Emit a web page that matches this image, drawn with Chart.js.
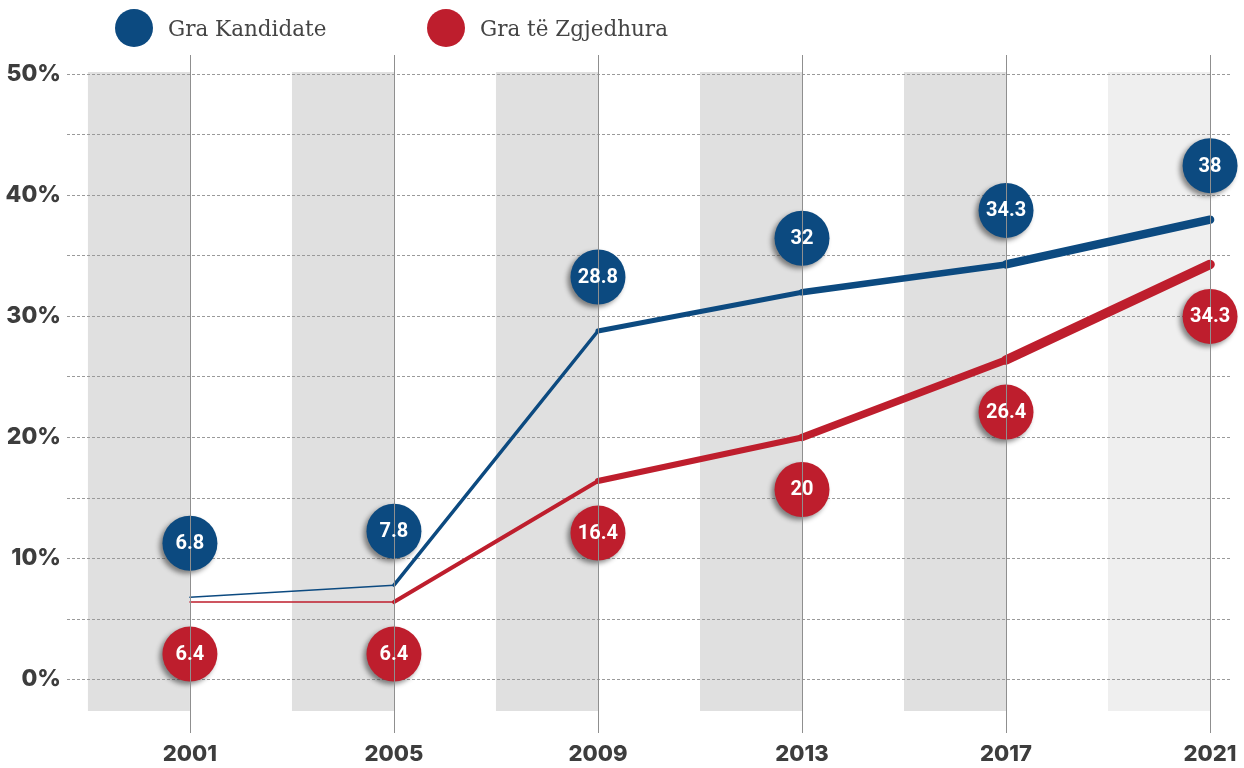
<!DOCTYPE html>
<html>
<head>
<meta charset="utf-8">
<script src="https://cdn.jsdelivr.net/npm/chart.js@4"></script>
<style>
  html, body { margin: 0; padding: 0; background: #fff; }
  #wrap { position: relative; width: 1244px; height: 768px; }
  .leg { position: absolute; top: 9px; height: 38px; display: flex; align-items: center;
         font-family: "DejaVu Serif", serif; font-size: 21.5px; color: #444; }
  .leg span.dot { display: inline-block; width: 38px; height: 38px; border-radius: 50%; margin-right: 15px; }
</style>
</head>
<body>
<div id="wrap">
  <canvas id="chart" width="1244" height="768"></canvas>
  <div class="leg" style="left:115px"><span class="dot" style="background:#0c4a80"></span>Gra Kandidate</div>
  <div class="leg" style="left:427px"><span class="dot" style="background:#be1e2d"></span>Gra të Zgjedhura</div>
</div>
<script>
// values
const years = [2001, 2005, 2009, 2013, 2017, 2021];
const candidates = [6.8, 7.8, 28.8, 32, 34.3, 38];
const elected = [6.4, 6.4, 16.4, 20, 26.4, 34.3];
const yTicks = [0, 5, 10, 15, 20, 25, 30, 35, 40, 45, 50];

const blue = '#0c4a80';
const red = '#be1e2d';
// line gets thicker over time
const blueWidths = [1.5, 3.5, 5, 6.5, 8.5];
const redWidths = [1.5, 4, 6, 7.5, 9.5];

const bandsPlugin = {
  id: 'bands',
  beforeDraw(chart) {
    const ctx = chart.ctx, x = chart.scales.x, area = chart.chartArea;
    ctx.save();
    years.forEach((yr, i) => {
      const x0 = x.getPixelForValue(yr - 2), x1 = x.getPixelForValue(yr);
      ctx.fillStyle = i === years.length - 1 ? '#efefef' : '#e0e0e0';
      ctx.fillRect(x0, area.top, x1 - x0, area.bottom - area.top);
    });
    ctx.restore();
  }
};

const bubblesPlugin = {
  id: 'bubbles',
  afterDatasetsDraw(chart) {
    const ctx = chart.ctx, x = chart.scales.x;
    const sets = [{idx: 0, off: -54, color: blue}, {idx: 1, off: 52, color: red}];
    // circles
    ctx.save();
    sets.forEach(s => {
      chart.getDatasetMeta(s.idx).data.forEach(pt => {
        ctx.save();
        ctx.shadowColor = 'rgba(0,0,0,0.45)';
        ctx.shadowBlur = 5;
        ctx.shadowOffsetX = -3;
        ctx.shadowOffsetY = 3;
        ctx.fillStyle = s.color;
        ctx.beginPath();
        ctx.arc(pt.x, pt.y + s.off, 27.5, 0, Math.PI * 2);
        ctx.fill();
        ctx.restore();
      });
    });
    // vertical year lines
    ctx.strokeStyle = '#8f8f8f';
    ctx.lineWidth = 1;
    years.forEach(yr => {
      const px = Math.round(x.getPixelForValue(yr)) + 0.5;
      ctx.beginPath();
      ctx.moveTo(px, 55);
      ctx.lineTo(px, 733);
      ctx.stroke();
    });
    // numbers
    ctx.fillStyle = '#fff';
    ctx.font = 'bold 20px Roboto';
    ctx.textAlign = 'center';
    ctx.textBaseline = 'middle';
    sets.forEach(s => {
      const vals = chart.data.datasets[s.idx].data;
      chart.getDatasetMeta(s.idx).data.forEach((pt, i) => {
        ctx.fillText(String(vals[i].y), pt.x, pt.y + s.off + 1);
      });
    });
    ctx.restore();
  }
};

new Chart(document.getElementById('chart'), {
  type: 'line',
  data: {
    datasets: [
      {
        label: 'Gra Kandidate',
        data: years.map((yr, i) => ({x: yr, y: candidates[i]})),
        borderColor: blue,
        pointRadius: 0,
        borderCapStyle: 'round',
        segment: { borderWidth: c => blueWidths[c.p0DataIndex] }
      },
      {
        label: 'Gra të Zgjedhura',
        data: years.map((yr, i) => ({x: yr, y: elected[i]})),
        borderColor: red,
        pointRadius: 0,
        borderCapStyle: 'round',
        segment: { borderWidth: c => redWidths[c.p0DataIndex] }
      }
    ]
  },
  options: {
    responsive: false,
    animation: false,
    layout: { padding: { top: 72, right: 12, left: 0, bottom: 0 } },
    plugins: { legend: { display: false }, tooltip: { enabled: false } },
    scales: {
      x: {
        type: 'linear',
        min: 1998.59,
        max: 2021.43,
        afterBuildTicks: s => { s.ticks = years.map(v => ({value: v})); },
        afterFit: s => { s.height = 57; s.paddingLeft = 0; s.paddingRight = 0; },
        grid: { display: false },
        border: { display: false },
        ticks: {
          padding: 22,
          color: '#3d3d3d',
          font: { family: 'Inter', size: 22, weight: 800 },
          callback: v => String(v)
        }
      },
      y: {
        min: -2.6,
        max: 50.2,
        afterBuildTicks: s => { s.ticks = yTicks.map(v => ({value: v})); },
        afterFit: s => { s.width = 67; },
        grid: { color: '#9a9a9a', lineWidth: 1, drawTicks: false },
        border: { display: false, dash: [3, 2] },
        ticks: {
          padding: 6,
          color: '#3d3d3d',
          font: { family: 'Inter', size: 23, weight: 800 },
          callback: v => (v % 10 === 0 ? v + '%' : '')
        }
      }
    }
  },
  plugins: [bandsPlugin, bubblesPlugin]
});
</script>
</body>
</html>
